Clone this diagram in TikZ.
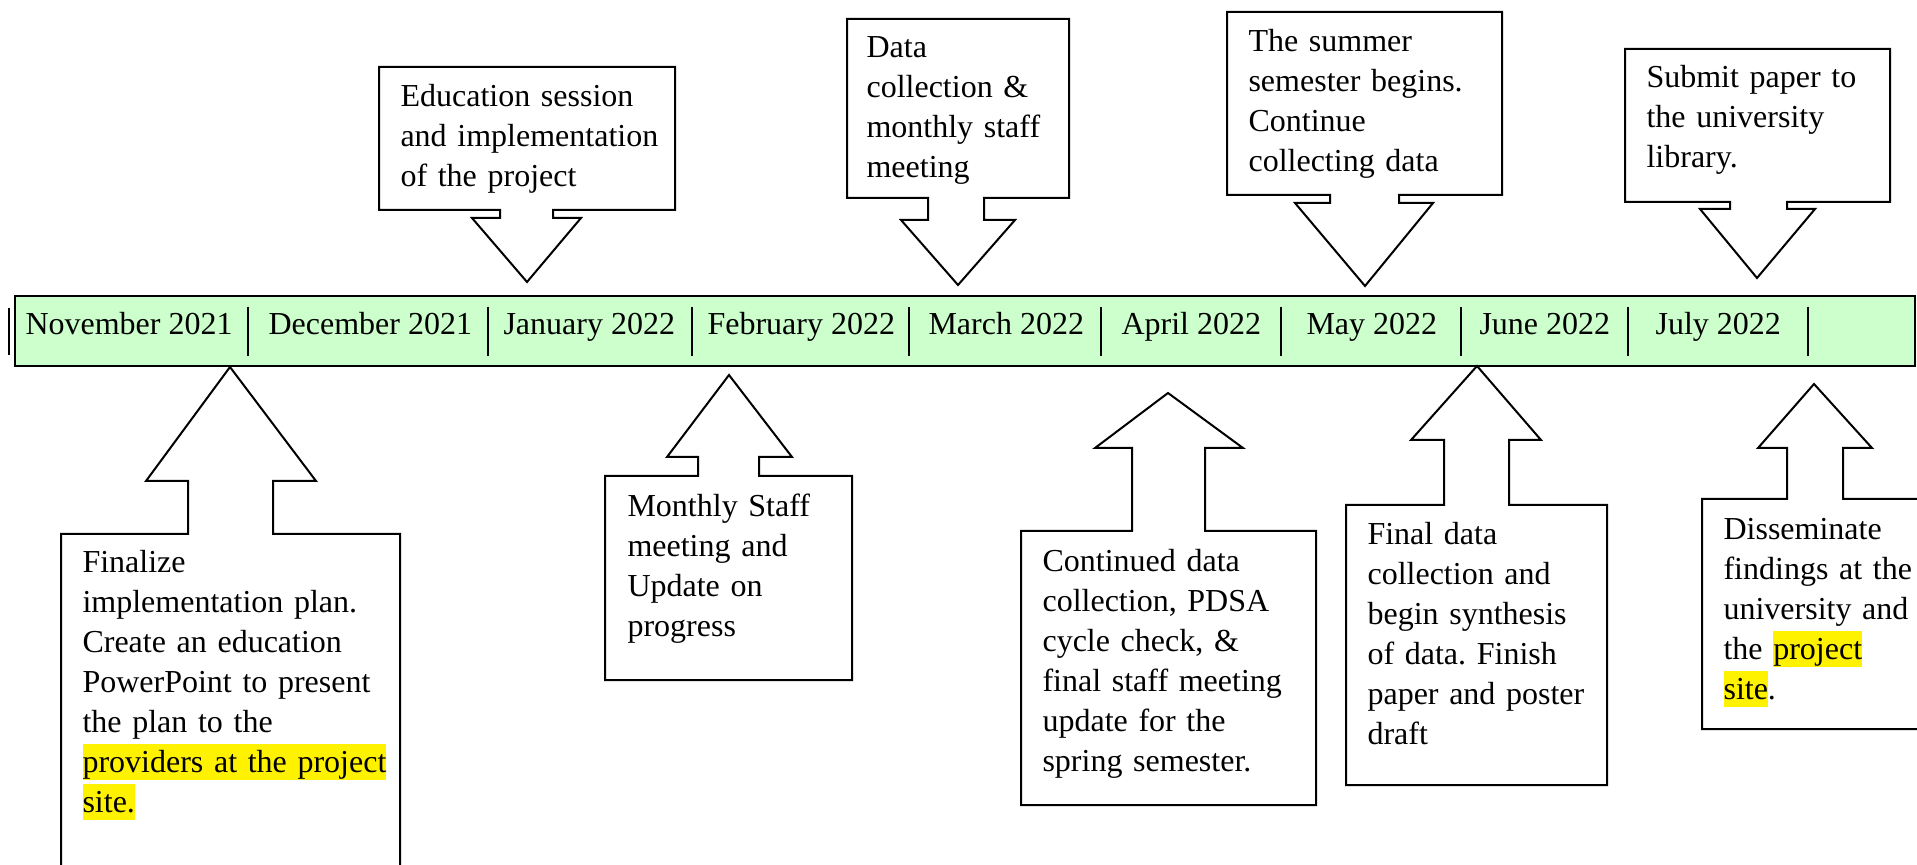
\documentclass[tikz,border=0pt]{standalone}
\usepackage{fontspec}
\setmainfont{Liberation Serif}
\definecolor{barGreen}{RGB}{204,255,204}
\newcommand{\hilite}[1]{{\setlength{\fboxsep}{0pt}\colorbox{yellow}{\rule[-2.8pt]{0pt}{13.5pt}#1}}}
\frenchspacing

\begin{document}
\begin{tikzpicture}[x=0.375pt, y=-0.375pt, font=\fontsize{12pt}{15pt}\selectfont,
  month/.style={anchor=base west, inner sep=0pt},
  note/.style={anchor=base west, inner sep=0pt, align=left, text width=#1},
  callout/.style={draw=black, line width=0.75pt, line join=miter},
  sepline/.style={draw=black, line width=0.75pt}]
  \useasboundingbox (0,0) rectangle (1917,865);
  \clip (0,0) rectangle (1917,865);

  % timeline bar
  \draw[line width=1.1pt, fill=barGreen] (15,296) rectangle (1915,366);
  \draw[sepline] (9,308) -- (9,355);
  \node[month] (nov) at (25,335) {November 2021};
  \draw[sepline] (248,307) -- (248,356);
  \node[month] (dec) at (268,335) {December 2021};
  \draw[sepline] (488,307) -- (488,356);
  \node[month] (jan) at (503,335) {January 2022};
  \draw[sepline] (692,307) -- (692,356);
  \node[month] (feb) at (707,335) {February 2022};
  \draw[sepline] (909,307) -- (909,356);
  \node[month] (mar) at (928,335) {March 2022};
  \draw[sepline] (1101,307) -- (1101,356);
  \node[month] (apr) at (1121,335) {April 2022};
  \draw[sepline] (1281,307) -- (1281,356);
  \node[month] (may) at (1306,335) {May 2022};
  \draw[sepline] (1461,307) -- (1461,356);
  \node[month] (jun) at (1479,335) {June 2022};
  \draw[sepline] (1628,307) -- (1628,356);
  \node[month] (jul) at (1655,335) {July 2022};
  \draw[sepline] (1808,307) -- (1808,356);

  % callouts above the bar
  \draw[callout] (379,67) -- (675,67) -- (675,210) -- (553,210) -- (553,218) -- (581,218)
    -- (527,282) -- (472,218) -- (500,218) -- (500,210) -- (379,210) -- cycle;
  \node[note=105pt] (edu) at (400,107) {Education session\\and implementation\\of the project};

  \draw[callout] (847,19) -- (1069,19) -- (1069,198) -- (984,198) -- (984,220) -- (1015,220)
    -- (958,285) -- (901,220) -- (928,220) -- (928,198) -- (847,198) -- cycle;
  \node[note=80pt] (data) at (866,58) {Data\\collection \&\\monthly staff\\meeting};

  \draw[callout] (1227,12) -- (1502,12) -- (1502,195) -- (1399,195) -- (1399,203) -- (1433,203)
    -- (1365,286) -- (1295,203) -- (1330,203) -- (1330,195) -- (1227,195) -- cycle;
  \node[note=95pt] (summer) at (1248,52) {The summer\\semester begins.\\Continue\\collecting data};

  \draw[callout] (1625,49) -- (1890,49) -- (1890,202) -- (1787,202) -- (1787,209) -- (1815,209)
    -- (1757,278) -- (1700,209) -- (1730,209) -- (1730,202) -- (1625,202) -- cycle;
  \node[note=90pt] (submit) at (1646,88) {Submit paper to\\the university\\library.};

  % callouts below the bar
  \draw[callout] (61,900) -- (61,534) -- (188,534) -- (188,481) -- (146,481) -- (230,367)
    -- (316,481) -- (273,481) -- (273,534) -- (400,534) -- (400,900);
  \node[note=115pt] (finalize) at (82,573) {Finalize\\implementation plan.\\Create an education\\PowerPoint to present\\the plan to the\\\hilite{providers at the project}\\\hilite{site.}};

  \draw[callout] (605,476) -- (698,476) -- (698,457) -- (667,457) -- (729,375) -- (792,457)
    -- (759,457) -- (759,476) -- (852,476) -- (852,680) -- (605,680) -- cycle;
  \node[note=85pt] (monthly) at (627,517) {Monthly Staff\\meeting and\\Update on\\progress};

  \draw[callout] (1021,531) -- (1132,531) -- (1132,448) -- (1095,448) -- (1168,393) -- (1243,448)
    -- (1205,448) -- (1205,531) -- (1316,531) -- (1316,805) -- (1021,805) -- cycle;
  \node[note=105pt] (continued) at (1042,572) {Continued data\\collection, PDSA\\cycle check, \&\\final staff meeting\\update for the\\spring semester.};

  \draw[callout] (1346,505) -- (1444,505) -- (1444,440) -- (1411,440) -- (1477,366) -- (1541,440)
    -- (1509,440) -- (1509,505) -- (1607,505) -- (1607,785) -- (1346,785) -- cycle;
  \node[note=90pt] (synthesis) at (1367,545) {Final data\\collection and\\begin synthesis\\of data. Finish\\paper and poster\\draft};

  \draw[callout] (1960,499) -- (1843,499) -- (1843,448) -- (1872,448) -- (1814,384) -- (1758,448)
    -- (1787,448) -- (1787,499) -- (1702,499) -- (1702,729) -- (1960,729);
  \node[note=90pt] (disseminate) at (1723,540) {Disseminate\\findings at the\\university and\\the \hilite{project}\\\hilite{site}.};
\end{tikzpicture}
\end{document}
